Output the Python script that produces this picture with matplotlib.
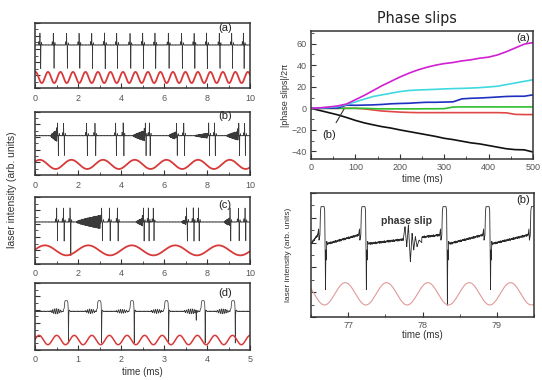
import numpy as np
import matplotlib
matplotlib.use("Agg")
import matplotlib.pyplot as plt
from matplotlib.ticker import MultipleLocator
from matplotlib import font_manager as fm

plt.rcParams["font.family"] = ["Liberation Sans", "DejaVu Sans"]

# ------------------------------------------------------------------ data
# left column, panels (a)-(d): spike / pulse times (ms)
a_spikes = [0.23, 0.85, 1.47, 2.05, 2.64, 3.23, 3.80, 4.42, 5.01, 5.58,
            6.20, 6.82, 7.40, 7.98, 8.57, 9.15, 9.69]
a_mod_period, a_mod_peak = 0.581, 0.024          # ms
b_spikes = [1.05, 1.33, 2.40, 2.79, 3.75, 4.10, 5.13, 5.32, 6.58, 6.92,
            8.08, 8.35, 9.48, 9.75]
b_bursts = [(0.72, 1.02, 0.9), (4.55, 5.10, 0.8), (6.20, 6.56, 0.6),
            (7.40, 8.05, 0.4), (8.90, 9.46, 0.7)]   # start, end, amplitude
b_mod_period, b_mod_peak = 1.473, 0.22
c_spikes = [1.01, 1.32, 1.63, 3.10, 3.46, 3.83, 5.04, 5.27, 5.50,
            7.05, 7.36, 7.60, 9.07, 9.46, 9.77]
c_deep = [1.63]                                  # spikes reaching below the modulation
c_bursts = [(1.90, 3.05, 1.0), (4.70, 5.02, 0.6), (6.80, 7.03, 0.4),
            (8.80, 9.05, 0.6)]
c_mod_period, c_mod_peak = 2.02, 0.46
d_pulses = [0.68, 1.45, 2.21, 3.01, 3.86, 4.56]
d_bursts = [(0.35, 0.64, 0.4), (1.16, 1.42, 0.35), (1.86, 2.18, 0.3),
            (2.67, 2.98, 0.3), (3.44, 3.82, 0.35), (4.19, 4.53, 0.35)]
d_extra_dip = [3.75]
d_mod_period, d_mod_peak = 0.409, 0.095

# left panel levels (arb. units, axis 0..10): baseline, spike top, spike bottom, mod peak, mod trough
a_lv = (6.6, 8.4, 2.5, 2.5, 0.8)
b_lv = (6.2, 8.2, 2.6, 2.4, 0.95)
c_lv = (6.25, 8.35, 3.0, 2.75, 1.25)
d_lv = (5.75, 7.35, 1.0, 2.15, 0.75)

# right top: phase slips / 2pi vs time (ms)
ps_time = [0, 20, 40, 60, 80, 100, 120, 140, 160, 180, 200, 220, 240, 260,
           280, 300, 320, 340, 360, 380, 400, 420, 440, 460, 480, 500]
ps_magenta = [0, 0.5, 1.2, 2.2, 4, 8, 12, 16.5, 21, 25, 29, 32.5, 35.5, 38,
              40, 41.5, 42.5, 44, 45, 46.5, 47.5, 49.5, 52.5, 56, 59.5, 61]
ps_cyan = [0, 0.3, 0.8, 1.5, 3.5, 6, 8.5, 11, 12.5, 14, 15.5, 16.5, 17, 17.3,
           17.6, 18, 18.3, 18.5, 18.8, 19.2, 19.8, 20.5, 22, 23.5, 25, 26.5]
ps_blue = [0, 0, 0.2, 0.3, 3, 2.8, 3, 3.2, 3.6, 4.2, 4.5, 4.7, 5.2, 5.6,
           5.6, 5.8, 6, 8.8, 9.3, 9.6, 10, 10.5, 11, 11.2, 11.2, 12.5]
ps_green = [0, 0, 0, 0, 0, 0, 0, -0.3, -0.5, -0.5, -0.5, -0.5, -0.5, -0.4,
            -0.4, -0.3, 1.2, 1.3, 1.3, 1.3, 1.3, 1.3, 1.3, 1.3, 1.3, 1.3]
ps_red = [0, 0, 0, 0, 0, 0, -0.5, -1.5, -2.5, -3, -3.5, -3.8, -4, -4,
          -4, -4, -4, -4, -4, -4, -4, -4, -4.2, -5.6, -5.8, -5.8]
ps_black = [0, -2, -4, -6, -8.5, -11.2, -13.5, -15.3, -17, -18.3, -20, -21.5,
            -23, -24.5, -26, -27.8, -29, -30.5, -32, -33, -34.5, -36, -37.5,
            -38.3, -38.5, -40.5]

# right bottom: zoomed trace around a phase slip (ms, arb. units)
z_pulses = [76.62, 77.17, 78.26, 78.84, 79.45]
z_dips = [2.2, 2.2, 0.95, 2.2, 2.2]
z_slip_t = [77.742, 77.765, 77.788, 77.81, 77.837, 77.86, 77.882, 77.904,
            77.927, 77.953, 77.99]
z_slip_y = [6.3, 7.28, 5.67, 7.42, 4.46, 6.75, 5.4, 6.48, 5.67, 6.2, 6.0]
z_mod_period, z_mod_peak = 0.556, 76.96
z_lv = (5.9, 6.6, 8.9, 2.77, 0.97)   # baseline after / before pulse, pulse top, mod peak, mod trough
ripple = [0, 0.12, -0.05, 0.08, -0.1, 0.15, -0.02, 0.05, -0.12, 0.07, -0.04, 0.1]

# ------------------------------------------------------------------ helpers
def tri(x, w):
    return np.clip(1 - np.abs(x) / w, 0, None)


def modulation(t, period, peak, hi, lo):
    return (hi + lo) / 2 + (hi - lo) / 2 * np.cos(2 * np.pi * (t - peak) / period)


def spike_trace(t, lv, spikes, bursts=(), deep=()):
    base, up, down = lv[0], lv[1], lv[2]
    y = np.full_like(t, base)
    rip = np.array(ripple)
    y += 0.25 * rip[(np.arange(t.size) // 6) % rip.size]
    for s in spikes:
        y += (up - base) * tri(t - s, 0.008)
        y += 0.5 * tri(t - (s - 0.05), 0.01)
        d = down if s not in deep else 0.5
        y -= (base - d) * tri(t - (s + 0.035), 0.008)
        y += 0.4 * tri(t - (s + 0.075), 0.01)
    for t0, t1, amp in bursts:
        m = (t >= t0) & (t <= t1)
        env = ((t[m] - t0) / (t1 - t0)) ** 0.7
        y[m] += amp * env * np.sin(2 * np.pi * t[m] / 0.03)
    return y


def pulse_trace(t, lv, pulses, bursts, extra):
    base, top, dip = lv[0], lv[1], lv[2]
    rip = np.array(ripple)
    y = base + 0.3 * rip[(np.arange(t.size) // 8) % rip.size]
    for t0, t1, amp in bursts:
        m = (t >= t0) & (t <= t1)
        y[m] += amp * np.sin(2 * np.pi * t[m] / 0.045) * np.sin(np.pi * (t[m] - t0) / (t1 - t0))
    for s in pulses:
        vx = s + np.array([-0.02, 0.0, 0.008, 0.02, 0.07, 0.085, 0.092, 0.098, 0.104, 0.115, 0.14])
        vy = [base + 0.2, base + 0.5, top - 0.3, top, top, top - 0.3, base + 0.3, dip, base - 0.6, base + 0.2, base]
        m = (t >= vx[0]) & (t <= vx[-1])
        y[m] = np.interp(t[m], vx, vy)
    for s in extra:
        y -= 1.5 * tri(t - s, 0.006)
    return y


def style_left(ax, xmax, xmajor):
    ax.set_xlim(0, xmax)
    ax.set_ylim(0, 10)
    ax.xaxis.set_major_locator(MultipleLocator(xmajor))
    ax.xaxis.set_minor_locator(MultipleLocator(xmajor / 2))
    ax.yaxis.set_major_locator(MultipleLocator(2))
    ax.yaxis.set_minor_locator(MultipleLocator(1))
    ax.tick_params(which="both", direction="in", labelsize=6.5, labelcolor="#555",
                   color="#333", left=True, bottom=True, top=False, right=False)
    ax.tick_params(which="major", length=3.5, width=0.8, pad=4)
    ax.tick_params(which="minor", length=2, width=0.6)
    ax.set_yticklabels([])
    for sp in ax.spines.values():
        sp.set_linewidth(1.1)
        sp.set_color("#333")


def title_font():
    try:
        path = fm.findfont(fm.FontProperties(family="Liberation Sans Narrow"),
                           fallback_to_default=False)
        return fm.FontProperties(fname=path, size=12.5)
    except Exception:
        return fm.FontProperties(family="DejaVu Sans", stretch="condensed",
                                 weight="light", size=11.5)


# ------------------------------------------------------------------ figure
W, H = 542, 380
fig = plt.figure(figsize=(W / 100, H / 100), dpi=100)


def box(x0, y0, x1, y1):
    return [x0 / W, 1 - y1 / H, (x1 - x0) / W, (y1 - y0) / H]


trace_col = "#3a3a3a"
left_panels = [
    ("(a)", box(35, 22.7, 250, 88.3), 10, 2, a_spikes, a_lv, (), (), (a_mod_period, a_mod_peak), 0.92),
    ("(b)", box(35, 111.7, 250, 175), 10, 2, b_spikes, b_lv, b_bursts, (), (b_mod_period, b_mod_peak), 0.93),
    ("(c)", box(35, 197, 250, 263.7), 10, 2, c_spikes, c_lv, c_bursts, c_deep, (c_mod_period, c_mod_peak), 0.875),
]
for lab, rect, xmax, xmaj, spikes, lv, bursts, deep, mod, ly in left_panels:
    ax = fig.add_axes(rect)
    t = np.arange(0, xmax, 0.002)
    ax.plot(t, spike_trace(t, lv, spikes, bursts, deep), color=trace_col, lw=0.5)
    ax.plot(t, modulation(t, mod[0], mod[1], lv[3], lv[4]), color="#d83a3a", lw=1.3)
    style_left(ax, xmax, xmaj)
    ax.text(0.884, ly, lab, transform=ax.transAxes, ha="center", va="center", fontsize=8, color="#222")

ax = fig.add_axes(box(35, 283, 250, 349.7))
t = np.arange(0, 5, 0.001)
ax.plot(t, pulse_trace(t, d_lv, d_pulses, d_bursts, d_extra_dip), color=trace_col, lw=0.55)
ax.plot(t, modulation(t, d_mod_period, d_mod_peak, d_lv[3], d_lv[4]), color="#d83a3a", lw=1.1)
style_left(ax, 5, 1)
ax.text(0.884, 0.85, "(d)", transform=ax.transAxes, ha="center", va="center", fontsize=8, color="#222")
ax.set_xlabel("time (ms)", fontsize=7, color="#333", labelpad=2)

fig.text(12 / W, 1 - 190 / H, "laser intensity (arb. units)", rotation=90, ha="center",
         va="center", fontsize=7.5, color="#333")

# ---- right top: phase slips
ax = fig.add_axes(box(311, 30.7, 533, 159))
for vals, col in [(ps_black, "#111111"), (ps_red, "#e04848"), (ps_green, "#2ec02e"),
                  (ps_blue, "#1f2fbf"), (ps_cyan, "#3fd9e0"), (ps_magenta, "#d21fd2")]:
    ax.plot(ps_time, vals, color=col, lw=1.2)
ax.set_xlim(0, 500)
ax.set_ylim(-47, 72)
ax.xaxis.set_major_locator(MultipleLocator(100))
ax.xaxis.set_minor_locator(MultipleLocator(50))
ax.yaxis.set_major_locator(MultipleLocator(20))
ax.yaxis.set_minor_locator(MultipleLocator(10))
ax.tick_params(which="both", direction="in", labelsize=6.5, labelcolor="#555", color="#333")
ax.tick_params(which="major", length=3.5, width=0.8, pad=3)
ax.tick_params(which="minor", length=2, width=0.6)
for sp in ax.spines.values():
    sp.set_linewidth(1.1)
    sp.set_color("#333")
ax.set_xlabel("time (ms)", fontsize=7, color="#333", labelpad=1)
ax.set_ylabel("|phase slips|/2\u03c0", fontsize=6.5, color="#333", labelpad=1)
ax.text(0.955, 0.94, "(a)", transform=ax.transAxes, ha="center", va="center", fontsize=8, color="#222")
ax.annotate("(b)", xy=(74, -1), xytext=(40, -25), fontsize=8, color="#222", ha="center",
            va="center", arrowprops=dict(arrowstyle="-", color="#333", lw=0.8, shrinkA=4, shrinkB=0))
fig.text(417 / W, 1 - 18 / H, "Phase slips", ha="center", va="center",
         fontproperties=title_font(), color="#222")

# ---- right bottom: zoomed trace
ax = fig.add_axes(box(311, 193, 534, 317))
t = np.arange(76.5, 79.5, 0.0005)
base_after, base_before, top = z_lv[0], z_lv[1], z_lv[2]
y = np.full_like(t, base_after)
edges = [76.5] + [p + 0.1 for p in z_pulses]
for i, p in enumerate(z_pulses):
    m = (t >= edges[i]) & (t < p)
    y[m] = np.interp(t[m], [edges[i], p - 0.03], [base_after, base_before])
rip = np.array(ripple)
y += 0.6 * rip[(np.arange(t.size) // 10) % rip.size]
for p, dip in zip(z_pulses, z_dips):
    vx = p + np.array([-0.03, -0.018, -0.012, -0.004, 0.0, 0.006, 0.014, 0.056, 0.064,
                       0.07, 0.075, 0.08, 0.086, 0.092, 0.1])
    vy = [base_before, 7.1, 6.2, 6.5, 6.6, 8.5, top, top, 8.6, 5.9, dip, 5.4, 4.6, 6.1, base_after]
    m = (t >= vx[0]) & (t <= vx[-1])
    y[m] = np.interp(t[m], vx, vy)
m = (t >= z_slip_t[0]) & (t <= z_slip_t[-1])
y[m] = np.interp(t[m], z_slip_t, z_slip_y)
ax.plot(t, y, color="#2a2a2a", lw=0.6)
ax.plot(t, modulation(t, z_mod_period, z_mod_peak, z_lv[3], z_lv[4]), color="#e09a9a", lw=0.8)
ax.set_xlim(76.5, 79.5)
ax.set_ylim(0, 10)
ax.xaxis.set_major_locator(MultipleLocator(1))
ax.xaxis.set_minor_locator(MultipleLocator(0.5))
ax.yaxis.set_major_locator(MultipleLocator(2))
ax.yaxis.set_minor_locator(MultipleLocator(1))
ax.tick_params(which="both", direction="in", labelsize=6.5, labelcolor="#555", color="#333")
ax.tick_params(which="major", length=3.5, width=0.8, pad=3)
ax.tick_params(which="minor", length=2, width=0.6)
ax.set_yticklabels([])
for sp in ax.spines.values():
    sp.set_linewidth(1.1)
    sp.set_color("#333")
ax.set_xlabel("time (ms)", fontsize=7, color="#333", labelpad=0)
fig.text(288 / W, 1 - 255 / H, "laser intensity (arb. units)", rotation=90, ha="center",
         va="center", fontsize=6, color="#333")
ax.text(0.95, 0.94, "(b)", transform=ax.transAxes, ha="center", va="center", fontsize=8, color="#222")
ax.text(77.79, 7.76, "phase slip", ha="center", va="center", fontsize=7.5,
        fontweight="bold", color="#333")

fig.savefig("out.png", dpi=100)
